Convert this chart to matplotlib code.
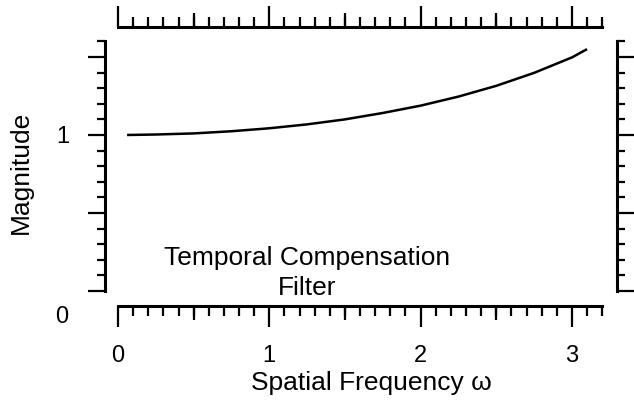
import matplotlib
matplotlib.use("Agg")
import matplotlib.pyplot as plt
from matplotlib.ticker import FixedLocator, FixedFormatter, NullLocator

plt.rcParams['font.family'] = ['Liberation Sans', 'DejaVu Sans']

# Data
omega = [0.06, 0.25, 0.5, 0.75, 1.0, 1.25, 1.5, 1.75, 2.0, 2.25, 2.5, 2.75, 3.0, 3.1]
magnitude = [1.000, 1.003, 1.010, 1.024, 1.043, 1.068, 1.100, 1.141, 1.188,
             1.246, 1.315, 1.398, 1.497, 1.550]

x_major = [0, 1, 2, 3]
x_major_labels = ['0', '1', '2', '3']
x_mid = [0.5, 1.5, 2.5]
x_minor = [round(0.1 * i, 1) for i in range(0, 33)]
y_major = [0, 0.5, 1, 1.5]
y_major_labels = ['', '', '1', '']
y_minor = [round(0.1 * i, 1) for i in range(0, 17)]

W, H = 634, 408
fig = plt.figure(figsize=(W / 100, H / 100), dpi=100)
pos = [105 / W, (H - 306) / H, (617 - 105) / W, (306 - 27) / H]
ax = fig.add_axes(pos)

xlim = (-0.086, 3.298)
ylim = (-0.096, 1.692)
ax.set_xlim(*xlim)
ax.set_ylim(*ylim)

ax.plot(omega, magnitude, color='black', lw=1.8, solid_capstyle='butt')

for s in ['left', 'right']:
    ax.spines[s].set_bounds(0, 1.6)
for s in ['top', 'bottom']:
    ax.spines[s].set_bounds(0, 3.2)
for s in ax.spines.values():
    s.set_linewidth(2.2)
    s.set_capstyle('projecting')

ax.xaxis.set_major_locator(FixedLocator(x_major))
ax.xaxis.set_major_formatter(FixedFormatter(x_major_labels))
ax.xaxis.set_minor_locator(FixedLocator(x_minor))
ax.yaxis.set_major_locator(FixedLocator(y_major))
ax.yaxis.set_major_formatter(FixedFormatter(y_major_labels))
ax.yaxis.set_minor_locator(FixedLocator(y_minor))

ax.tick_params(axis='x', which='major', direction='out', length=15, width=1.6,
               top=True, bottom=True, labeltop=False, labelsize=17, pad=13)
ax.tick_params(axis='x', which='minor', direction='out', length=7, width=1.6,
               top=True, bottom=True)
ax.tick_params(axis='y', which='major', direction='out', length=12, width=1.6,
               left=True, right=True, labelright=False, labelsize=17, pad=14)
ax.tick_params(axis='y', which='minor', direction='out', length=6, width=1.6,
               left=True, right=True)

# medium ticks on the x axis (separate overlay axes with the same limits)
axm = fig.add_axes(pos)
axm.set_xlim(*xlim)
axm.set_ylim(*ylim)
axm.patch.set_visible(False)
for s in axm.spines.values():
    s.set_visible(False)
axm.xaxis.set_major_locator(FixedLocator(x_mid))
axm.xaxis.set_minor_locator(NullLocator())
axm.yaxis.set_major_locator(NullLocator())
axm.yaxis.set_minor_locator(NullLocator())
axm.tick_params(axis='x', which='major', direction='out', length=10, width=1.6,
                top=True, bottom=True, labelbottom=False, labeltop=False)

# "0" label on y axis, shifted below the axis end
ax.annotate('0', xy=(0, 0), xycoords=('axes fraction', 'data'),
            xytext=(-43, -26), textcoords='offset pixels',
            ha='center', va='center', fontsize=17)

ax.set_xlabel('Spatial Frequency ω', fontsize=19)
ax.xaxis.set_label_coords(0.52, -0.232)
ax.set_ylabel('Magnitude', fontsize=19)
ax.yaxis.set_label_coords(-0.14, 0.48)

ax.text(0.395, 0.118, 'Temporal Compensation\nFilter', transform=ax.transAxes,
        ha='center', va='center', fontsize=19, linespacing=1.33)

fig.savefig('out.png', dpi=100)
